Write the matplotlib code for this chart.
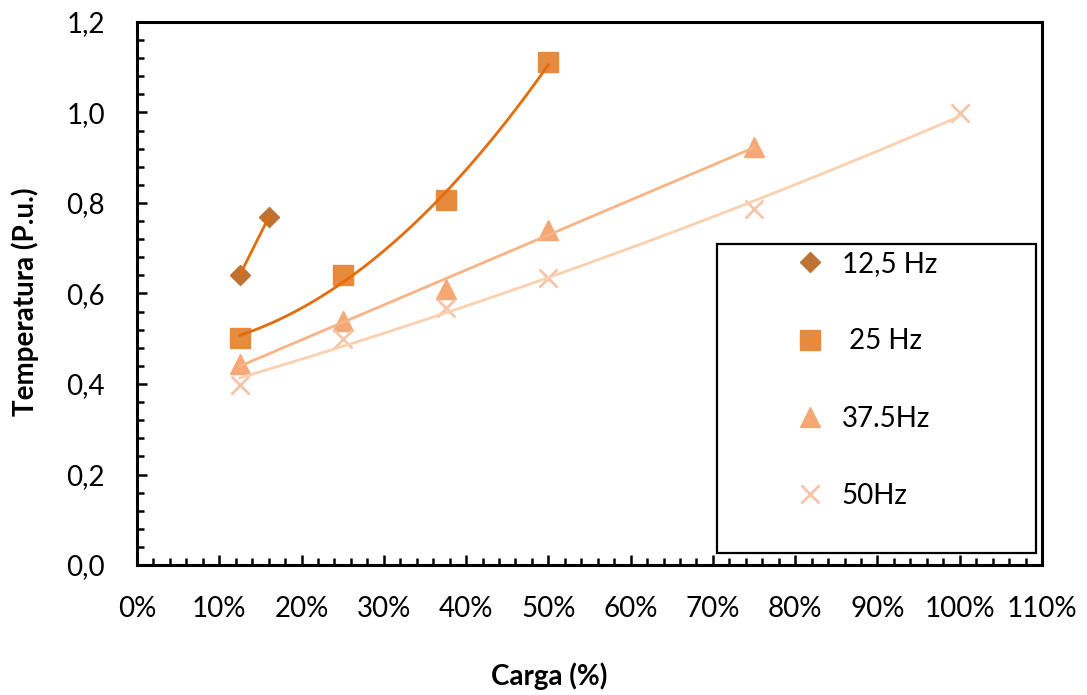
import numpy as np
import matplotlib
matplotlib.use("Agg")
import matplotlib.pyplot as plt
from matplotlib.patches import Rectangle
from matplotlib.ticker import MultipleLocator, FuncFormatter
from matplotlib.lines import Line2D

plt.rcParams['font.family'] = ['Lato', 'DejaVu Sans']

# carga (fraccion) y temperatura (p.u.) por frecuencia
carga_125 = [0.125, 0.16]
temp_125 = [0.641, 0.768]
carga_25 = [0.125, 0.25, 0.375, 0.50]
temp_25 = [0.502, 0.641, 0.807, 1.111]
carga_375 = [0.125, 0.25, 0.375, 0.50, 0.75]
temp_375 = [0.445, 0.540, 0.611, 0.740, 0.924]
carga_50 = [0.125, 0.25, 0.375, 0.50, 0.75, 1.00]
temp_50 = [0.398, 0.500, 0.567, 0.634, 0.786, 1.000]

labels = ['12,5 Hz', ' 25 Hz', '37.5Hz', '50Hz']

c_125 = '#BF7332'
c_25 = '#E68A3E'
c_375 = '#F5A876'
c_50 = '#F6C4AA'
lc_dark = '#E46C0A'
lc_375 = '#F8B487'
lc_50 = '#FBD0AF'

FS = 20

fig = plt.figure(figsize=(10.87, 6.95), dpi=100)
ax = fig.add_axes([137/1087, 1-565/695, (1042-137)/1087, (565-22)/695])


def tendencia(x, y, grado, color):
    c = np.polyfit(x, y, grado)
    xs = np.linspace(min(x), max(x), 200)
    ax.plot(xs, np.polyval(c, xs), color=color, lw=2, zorder=3)


tendencia(carga_125, temp_125, 1, lc_dark)
tendencia(carga_25, temp_25, 2, lc_dark)
tendencia(carga_375, temp_375, 1, lc_375)
tendencia(carga_50, temp_50, 2, lc_50)

mk = dict(
    d125=dict(marker='D', ms=10.5, color=c_125),
    d25=dict(marker='s', ms=14.5, color=c_25),
    d375=dict(marker='^', ms=15, color=c_375),
    d50=dict(marker='x', ms=13, mew=2, color=c_50),
)

ax.plot(carga_125, temp_125, ls='none', zorder=2, **mk['d125'])
ax.plot(carga_25, temp_25, ls='none', zorder=2, **mk['d25'])
ax.plot(carga_375, temp_375, ls='none', zorder=2, **mk['d375'])
ax.plot(carga_50, temp_50, ls='none', zorder=2, **mk['d50'])

ax.set_xlim(0, 1.10)
ax.set_ylim(0, 1.2)
ax.xaxis.set_major_locator(MultipleLocator(0.10))
ax.xaxis.set_minor_locator(MultipleLocator(0.02))
ax.yaxis.set_major_locator(MultipleLocator(0.2))
ax.yaxis.set_minor_locator(MultipleLocator(0.04))
ax.xaxis.set_major_formatter(FuncFormatter(lambda v, p: f"{v*100:.0f}%"))
ax.yaxis.set_major_formatter(FuncFormatter(lambda v, p: f"{v:.1f}".replace('.', ',')))

ax.tick_params(which='both', direction='in', width=1.8, labelsize=FS, colors='black')
ax.tick_params(which='major', length=7)
ax.tick_params(which='minor', length=5)
ax.tick_params(axis='x', which='major', pad=22)
ax.tick_params(axis='y', which='major', pad=23)
for s in ax.spines.values():
    s.set_linewidth(2.2)

ax.set_xlabel('Carga (%)', fontsize=FS, fontweight='bold')
ax.set_ylabel('Temperatura (P.u.)', fontsize=FS, fontweight='bold')
ax.xaxis.set_label_coords((549-137)/905, -(662-565)/543)
ax.yaxis.set_label_coords(-(137-39)/905, (565-302)/543)

# recuadro de la leyenda
x0 = (716.7-137)/905
y0 = (565-553.3)/543
ax.add_patch(Rectangle((x0, y0), (1035.7-716.7)/905, (553.3-243.7)/543,
                       transform=ax.transAxes, facecolor='white', edgecolor='black',
                       lw=1.6, clip_on=False, zorder=5))

handles = [Line2D([], [], ls='none', **mk[k]) for k in ('d125', 'd25', 'd375', 'd50')]
leg = ax.legend(handles, labels, loc='upper left', frameon=False, fontsize=FS,
                bbox_to_anchor=((796-137)/905, (565-251)/543),
                handlelength=1.0, handletextpad=0.65, labelspacing=1.85,
                borderpad=0, borderaxespad=0)
leg.set_zorder(6)

fig.savefig('out.png', dpi=100)
